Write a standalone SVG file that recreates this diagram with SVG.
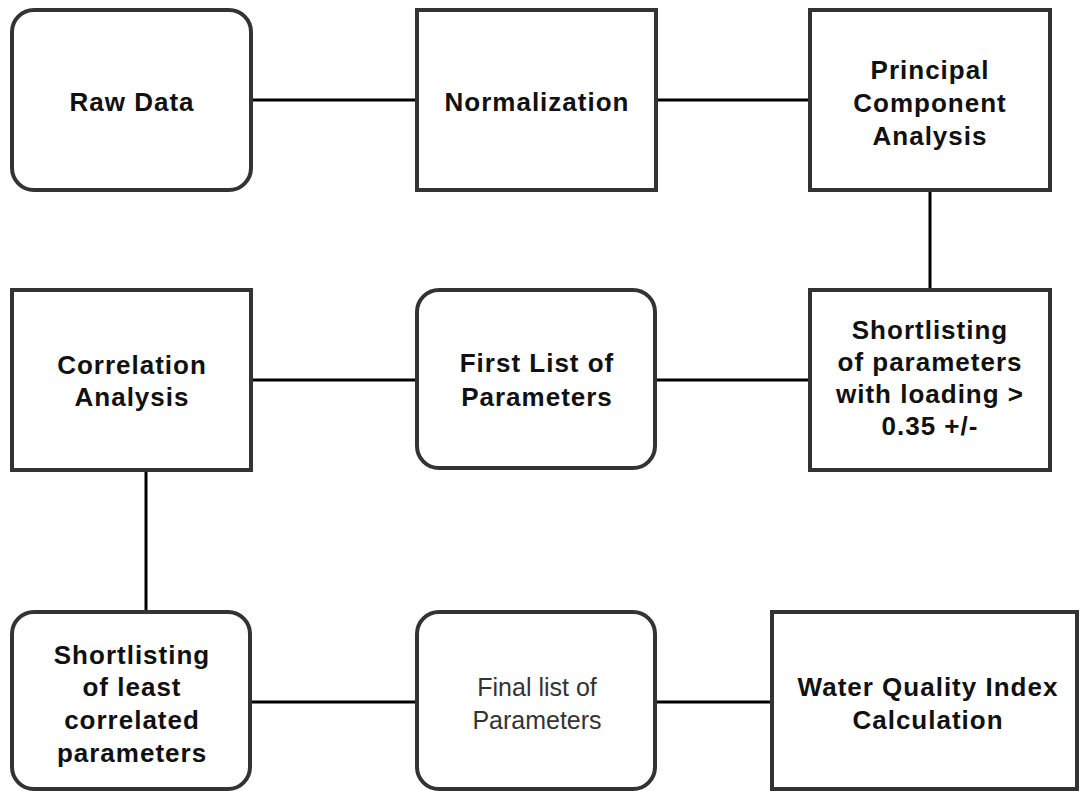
<svg xmlns="http://www.w3.org/2000/svg" width="1081" height="791" viewBox="0 0 1081 791">
<style>
.box{fill:#fff;stroke:#333;stroke-width:4}
.t{font-family:"Liberation Sans",Arial,sans-serif;font-size:26px;font-weight:bold;fill:#111;text-anchor:middle;letter-spacing:1px}
.n{font-family:"Liberation Sans",Arial,sans-serif;font-size:25px;fill:#333;text-anchor:middle}
.c{stroke:#000;stroke-width:3;fill:none}
</style>
<rect width="1081" height="791" fill="#fff"/>
<g id="connectors">
<line class="c" x1="252" y1="100" x2="417" y2="100"/>
<line class="c" x1="657" y1="100" x2="810" y2="100"/>
<line class="c" x1="930" y1="190" x2="930" y2="290"/>
<line class="c" x1="655" y1="380" x2="810" y2="380"/>
<line class="c" x1="252" y1="380" x2="417" y2="380"/>
<line class="c" x1="146" y1="470" x2="146" y2="612"/>
<line class="c" x1="250" y1="702" x2="417" y2="702"/>
<line class="c" x1="655" y1="702" x2="772" y2="702"/>
</g>
<g id="raw-data">
<rect class="box" x="12" y="10" width="239" height="180" rx="22"/>
<text class="t" x="132" y="111">Raw Data</text>
</g>
<g id="normalization">
<rect class="box" x="417" y="10" width="239" height="180"/>
<text class="t" x="537" y="111">Normalization</text>
</g>
<g id="pca">
<rect class="box" x="810" y="10" width="240" height="180"/>
<text class="t" x="930" y="79">Principal</text>
<text class="t" x="930" y="112">Component</text>
<text class="t" x="930" y="145">Analysis</text>
</g>
<g id="shortlisting-loading">
<rect class="box" x="810" y="290" width="240" height="180"/>
<text class="t" x="930" y="339">Shortlisting</text>
<text class="t" x="930" y="371">of parameters</text>
<text class="t" x="930" y="403">with loading &gt;</text>
<text class="t" x="930" y="435">0.35 +/-</text>
</g>
<g id="first-list">
<rect class="box" x="417" y="290" width="238" height="178" rx="22"/>
<text class="t" x="537" y="372">First List of</text>
<text class="t" x="537" y="406">Parameters</text>
</g>
<g id="correlation-analysis">
<rect class="box" x="12" y="290" width="239" height="180"/>
<text class="t" x="132" y="374">Correlation</text>
<text class="t" x="132" y="406">Analysis</text>
</g>
<g id="shortlisting-least">
<rect class="box" x="12" y="612" width="238" height="177" rx="22"/>
<text class="t" x="132" y="664">Shortlisting</text>
<text class="t" x="132" y="696">of least</text>
<text class="t" x="132" y="729">correlated</text>
<text class="t" x="132" y="762">parameters</text>
</g>
<g id="final-list">
<rect class="box" x="417" y="612" width="238" height="177" rx="22"/>
<text class="n" x="537" y="696">Final list of</text>
<text class="n" x="537" y="729">Parameters</text>
</g>
<g id="wqi">
<rect class="box" x="772" y="612" width="305" height="177"/>
<text class="t" x="928" y="696">Water Quality Index</text>
<text class="t" x="928" y="729">Calculation</text>
</g>
</svg>
